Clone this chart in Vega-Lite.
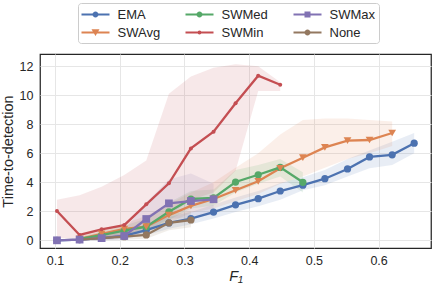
{
  "$schema": "https://vega.github.io/schema/vega-lite/v6.json",
  "autosize": "none",
  "width": 391,
  "height": 194,
  "padding": {"left": 40, "top": 54, "right": 5, "bottom": 38},
  "config": {
    "font": "Liberation Sans",
    "view": {"stroke": "#262626", "strokeWidth": 1.25},
    "axis": {"grid": true, "gridColor": "#e6e6e6", "gridWidth": 1, "domain": false, "ticks": false, "labelFontSize": 12.5, "labelColor": "#262626", "titleFontSize": 14.5, "titleColor": "#262626", "titleFontWeight": "normal"}
  },
  "datasets": {
    "d": [
      {"method": "EMA", "f1": 0.103, "ttd": 0, "lo": 0, "hi": 0},
      {"method": "EMA", "f1": 0.138, "ttd": 0.05, "lo": 0, "hi": 0.15},
      {"method": "EMA", "f1": 0.172, "ttd": 0.15, "lo": 0, "hi": 0.35},
      {"method": "EMA", "f1": 0.207, "ttd": 0.3, "lo": 0.1, "hi": 0.55},
      {"method": "EMA", "f1": 0.241, "ttd": 0.7, "lo": 0.35, "hi": 1.1},
      {"method": "EMA", "f1": 0.276, "ttd": 1.2, "lo": 0.8, "hi": 1.6},
      {"method": "EMA", "f1": 0.31, "ttd": 1.5, "lo": 1.1, "hi": 1.95},
      {"method": "EMA", "f1": 0.345, "ttd": 1.95, "lo": 1.5, "hi": 2.45},
      {"method": "EMA", "f1": 0.379, "ttd": 2.45, "lo": 1.95, "hi": 2.95},
      {"method": "EMA", "f1": 0.414, "ttd": 2.87, "lo": 2.35, "hi": 3.4},
      {"method": "EMA", "f1": 0.448, "ttd": 3.4, "lo": 2.8, "hi": 3.95},
      {"method": "EMA", "f1": 0.483, "ttd": 3.8, "lo": 3.45, "hi": 4.35},
      {"method": "EMA", "f1": 0.517, "ttd": 4.25, "lo": 3.8, "hi": 4.85},
      {"method": "EMA", "f1": 0.552, "ttd": 4.92, "lo": 4.4, "hi": 5.6},
      {"method": "EMA", "f1": 0.586, "ttd": 5.75, "lo": 4.97, "hi": 6.2},
      {"method": "EMA", "f1": 0.621, "ttd": 5.9, "lo": 5.2, "hi": 6.8},
      {"method": "EMA", "f1": 0.655, "ttd": 6.7, "lo": 6.0, "hi": 7.4},
      {"method": "SWAvg", "f1": 0.138, "ttd": 0.1, "lo": 0, "hi": 0.25},
      {"method": "SWAvg", "f1": 0.172, "ttd": 0.45, "lo": 0.15, "hi": 0.75},
      {"method": "SWAvg", "f1": 0.207, "ttd": 0.78, "lo": 0.35, "hi": 1.15},
      {"method": "SWAvg", "f1": 0.241, "ttd": 0.95, "lo": 0.5, "hi": 1.7},
      {"method": "SWAvg", "f1": 0.276, "ttd": 1.74, "lo": 1.2, "hi": 2.5},
      {"method": "SWAvg", "f1": 0.31, "ttd": 2.37, "lo": 1.9, "hi": 3.3},
      {"method": "SWAvg", "f1": 0.345, "ttd": 2.85, "lo": 2.2, "hi": 4.0},
      {"method": "SWAvg", "f1": 0.379, "ttd": 3.45, "lo": 2.7, "hi": 5.0},
      {"method": "SWAvg", "f1": 0.414, "ttd": 4.07, "lo": 3.2, "hi": 6.0},
      {"method": "SWAvg", "f1": 0.448, "ttd": 4.97, "lo": 3.9, "hi": 7.3},
      {"method": "SWAvg", "f1": 0.483, "ttd": 5.7, "lo": 4.4, "hi": 8.3},
      {"method": "SWAvg", "f1": 0.517, "ttd": 6.41, "lo": 5.0, "hi": 8.4},
      {"method": "SWAvg", "f1": 0.552, "ttd": 6.87, "lo": 5.6, "hi": 8.4},
      {"method": "SWAvg", "f1": 0.586, "ttd": 6.92, "lo": 6.0, "hi": 8.3},
      {"method": "SWAvg", "f1": 0.621, "ttd": 7.4, "lo": 6.5, "hi": 8.2},
      {"method": "SWMed", "f1": 0.138, "ttd": 0.1, "lo": 0, "hi": 0.25},
      {"method": "SWMed", "f1": 0.172, "ttd": 0.35, "lo": 0.1, "hi": 0.6},
      {"method": "SWMed", "f1": 0.207, "ttd": 0.66, "lo": 0.35, "hi": 1.0},
      {"method": "SWMed", "f1": 0.241, "ttd": 0.94, "lo": 0.55, "hi": 1.5},
      {"method": "SWMed", "f1": 0.276, "ttd": 1.97, "lo": 1.4, "hi": 2.6},
      {"method": "SWMed", "f1": 0.31, "ttd": 2.85, "lo": 2.2, "hi": 3.4},
      {"method": "SWMed", "f1": 0.345, "ttd": 2.92, "lo": 2.4, "hi": 3.5},
      {"method": "SWMed", "f1": 0.379, "ttd": 4.02, "lo": 3.3, "hi": 4.85},
      {"method": "SWMed", "f1": 0.414, "ttd": 4.52, "lo": 3.9, "hi": 5.2},
      {"method": "SWMed", "f1": 0.448, "ttd": 5.03, "lo": 4.4, "hi": 5.6},
      {"method": "SWMed", "f1": 0.483, "ttd": 4.0, "lo": 3.3, "hi": 4.7},
      {"method": "SWMin", "f1": 0.103, "ttd": 2.02, "lo": 0.2, "hi": 2.8},
      {"method": "SWMin", "f1": 0.138, "ttd": 0.37, "lo": 0.0, "hi": 3.1},
      {"method": "SWMin", "f1": 0.172, "ttd": 0.76, "lo": 0.2, "hi": 3.7},
      {"method": "SWMin", "f1": 0.207, "ttd": 1.05, "lo": 0.3, "hi": 4.5},
      {"method": "SWMin", "f1": 0.241, "ttd": 2.48, "lo": 0.9, "hi": 5.5},
      {"method": "SWMin", "f1": 0.276, "ttd": 3.93, "lo": 1.7, "hi": 10.1},
      {"method": "SWMin", "f1": 0.31, "ttd": 6.34, "lo": 2.8, "hi": 11.3},
      {"method": "SWMin", "f1": 0.345, "ttd": 7.49, "lo": 3.3, "hi": 11.9},
      {"method": "SWMin", "f1": 0.379, "ttd": 9.45, "lo": 4.8, "hi": 12.15},
      {"method": "SWMin", "f1": 0.414, "ttd": 11.35, "lo": 10.3, "hi": 12.0},
      {"method": "SWMin", "f1": 0.448, "ttd": 10.73, "lo": 10.3, "hi": 10.9},
      {"method": "SWMax", "f1": 0.103, "ttd": 0, "lo": 0, "hi": 0},
      {"method": "SWMax", "f1": 0.138, "ttd": 0.05, "lo": 0, "hi": 0.15},
      {"method": "SWMax", "f1": 0.172, "ttd": 0.15, "lo": 0, "hi": 0.4},
      {"method": "SWMax", "f1": 0.207, "ttd": 0.3, "lo": 0.05, "hi": 0.7},
      {"method": "SWMax", "f1": 0.241, "ttd": 1.47, "lo": 0.6, "hi": 2.6},
      {"method": "SWMax", "f1": 0.276, "ttd": 2.55, "lo": 1.5, "hi": 4.2},
      {"method": "SWMax", "f1": 0.31, "ttd": 2.71, "lo": 1.5, "hi": 4.6},
      {"method": "SWMax", "f1": 0.345, "ttd": 2.83, "lo": 1.8, "hi": 3.9},
      {"method": "None", "f1": 0.138, "ttd": 0.05, "lo": 0, "hi": 0.15},
      {"method": "None", "f1": 0.172, "ttd": 0.15, "lo": 0, "hi": 0.35},
      {"method": "None", "f1": 0.207, "ttd": 0.25, "lo": 0.05, "hi": 0.5},
      {"method": "None", "f1": 0.241, "ttd": 0.37, "lo": 0.1, "hi": 0.8},
      {"method": "None", "f1": 0.276, "ttd": 1.21, "lo": 0.7, "hi": 1.8},
      {"method": "None", "f1": 0.31, "ttd": 1.4, "lo": 0.9, "hi": 2.0}
    ]
  },
  "data": {"name": "d"},
  "encoding": {
    "x": {"field": "f1", "type": "quantitative", "title": "F₁",
      "scale": {"domain": [0.0768, 0.681], "nice": false, "zero": false},
      "axis": {"values": [0.1, 0.2, 0.3, 0.4, 0.5, 0.6], "format": ".1f", "labelPadding": 6, "titlePadding": 3, "titleFontStyle": "italic"}},
    "y": {"field": "ttd", "type": "quantitative", "title": "Time-to-detection",
      "scale": {"domain": [-0.53, 12.85], "nice": false, "zero": false},
      "axis": {"values": [0, 2, 4, 6, 8, 10, 12], "labelPadding": 7, "titlePadding": 4, "labelOverlap": false}},
    "color": {"field": "method", "type": "nominal",
      "scale": {"domain": ["EMA", "SWAvg", "SWMed", "SWMin", "SWMax", "None"], "range": ["#4c72b0", "#dd8452", "#55a868", "#c44e52", "#8172b3", "#937860"]},
      "legend": {"orient": "none", "legendX": 38, "legendY": -51, "columns": 3, "title": null,
        "labelFontSize": 13, "labelColor": "#262626", "symbolSize": 256, "symbolStrokeWidth": 0, "symbolOpacity": 1,
        "labelOffset": 20, "columnPadding": 25, "rowPadding": 3, "gridAlign": "each",
        "strokeColor": "#cccccc", "fillColor": "white", "cornerRadius": 3, "padding": 3.5,
        "encode": {"symbols": {"update": {"shape": {"signal": "'M-1,-0.14H2.5V0.14H-1Z ' + (datum.value === 'SWAvg' ? 'M0.25,-0.4L1.25,-0.4L0.75,0.45Z' : datum.value === 'SWMax' ? 'M0.375,-0.375H1.125V0.375H0.375Z' : datum.value === 'SWMin' ? 'M1,0A0.25,0.25 0 1,1 0.5,0A0.25,0.25 0 1,1 1,0Z' : 'M1.125,0A0.375,0.375 0 1,1 0.375,0A0.375,0.375 0 1,1 1.125,0Z')"}, "fill": {"scale": "color", "field": "value"}, "stroke": {"value": "transparent"}}}}}
    }
  },
  "layer": [
    {
      "mark": {"type": "area", "opacity": 0.13},
      "encoding": {
        "y": {"field": "lo", "type": "quantitative", "title": "Time-to-detection",
          "scale": {"domain": [-0.53, 12.85], "nice": false, "zero": false},
          "axis": {"values": [0, 2, 4, 6, 8, 10, 12], "labelPadding": 7, "titlePadding": 4, "labelOverlap": false}},
        "y2": {"field": "hi"}
      }
    },
    {
      "mark": {"type": "line", "strokeWidth": 2.3},
      "encoding": {}
    },
    {
      "transform": [{"filter": {"field": "method", "oneOf": ["EMA", "SWMed", "None"]}}],
      "mark": {"type": "point", "filled": true, "opacity": 1, "shape": "circle", "size": 52},
      "encoding": {}
    },
    {
      "transform": [{"filter": {"field": "method", "equal": "SWAvg"}}],
      "mark": {"type": "point", "filled": true, "opacity": 1, "shape": "triangle-down", "size": 60},
      "encoding": {}
    },
    {
      "transform": [{"filter": {"field": "method", "equal": "SWMin"}}],
      "mark": {"type": "point", "filled": true, "opacity": 1, "shape": "circle", "size": 16},
      "encoding": {}
    },
    {
      "transform": [{"filter": {"field": "method", "equal": "SWMax"}}],
      "mark": {"type": "point", "filled": true, "opacity": 1, "shape": "square", "size": 60},
      "encoding": {}
    }
  ]
}
